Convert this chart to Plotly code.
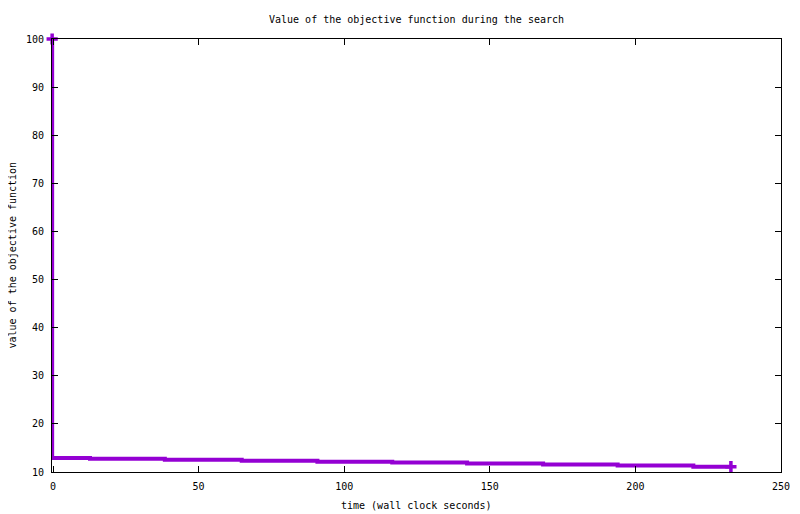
import plotly.graph_objects as go

# data (step curve, value holds until the listed time)
times = [-0.3, 12.7, 38.4, 64.8, 90.8, 116.5, 142.2, 168.3, 193.9, 219.9, 232.8]
values = [100, 12.9, 12.75, 12.55, 12.35, 12.15, 11.95, 11.75, 11.55, 11.35, 11.1]

title_text = "Value of the objective function during the search"
x_label = "time (wall clock seconds)"
y_label = "value of the objective function"
x_ticks = [0, 50, 100, 150, 200, 250]
y_ticks = [10, 20, 30, 40, 50, 60, 70, 80, 90, 100]

COLOR = "#9400D3"
FONT = "DejaVu Sans Mono"

fig = go.Figure()
fig.add_trace(go.Scatter(
    x=times, y=values, mode="lines",
    line=dict(color=COLOR, width=4, shape="vh"),
    showlegend=False, hoverinfo="skip",
))
fig.add_trace(go.Scatter(
    x=[times[0], times[-1]], y=[values[0], values[-1]], mode="markers",
    marker=dict(symbol="cross-thin", size=8, color=COLOR,
                line=dict(color=COLOR, width=3.5)),
    showlegend=False, cliponaxis=False, hoverinfo="skip",
))

axis_common = dict(
    showline=True, linecolor="black", linewidth=1, mirror="ticks",
    ticks="inside", ticklen=6, tickcolor="black", tickwidth=1,
    showgrid=False, zeroline=False, automargin=False,
    tickfont=dict(family=FONT, size=10, color="black"),
)

fig.update_layout(
    width=800, height=514,
    margin=dict(l=44, r=27, t=31, b=50),
    paper_bgcolor="white", plot_bgcolor="white",
    font=dict(family=FONT, size=10, color="black"),
    xaxis=dict(range=[-0.35, 250], tickvals=x_ticks, ticktext=[str(v) for v in x_ticks],
               ticklabelstandoff=5, **axis_common),
    yaxis=dict(range=[10, 100], tickvals=y_ticks, ticktext=[str(v) for v in y_ticks],
               ticklabelstandoff=5, **axis_common),
    annotations=[
        dict(text=title_text, xref="paper", yref="paper", x=0.5, y=1, yshift=20,
             xanchor="center", yanchor="middle", showarrow=False,
             font=dict(family=FONT, size=10, color="black")),
        dict(text=x_label, xref="paper", yref="paper", x=0.5, y=0, yshift=-33,
             xanchor="center", yanchor="middle", showarrow=False,
             font=dict(family=FONT, size=10, color="black")),
        dict(text=y_label, xref="paper", yref="paper", x=0, y=0.5, xshift=-40,
             xanchor="center", yanchor="middle", showarrow=False, textangle=-90,
             font=dict(family=FONT, size=10, color="black")),
    ],
)

fig.write_html("out.html")
